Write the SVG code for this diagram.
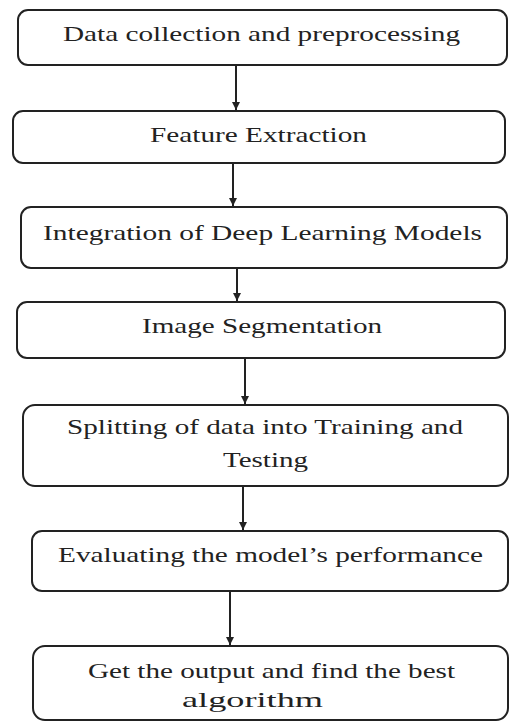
<svg xmlns="http://www.w3.org/2000/svg" width="509" height="722" viewBox="0 0 509 722">
<defs>
<style>
.box{fill:#fff;stroke:#222;stroke-width:2}
.t{font-family:'Liberation Serif','Times New Roman','DejaVu Serif',serif;font-size:21px;fill:#222}
.c{stroke:#222;stroke-width:2;fill:none}
</style>
<marker id="ah" viewBox="0 0 10 10" refX="10" refY="5" markerWidth="4" markerHeight="4" orient="auto" markerUnits="strokeWidth">
<path d="M0,0 L10,5 L0,10 z" fill="#222"/>
</marker>
</defs>
<rect width="509" height="722" fill="#fff"/>
<g id="n1"><rect class="box" x="18" y="10" width="489" height="55" rx="10"/>
<text class="t" font-family="Liberation Serif, DejaVu Serif, serif" x="63" y="41" textLength="397" lengthAdjust="spacingAndGlyphs">Data collection and preprocessing</text></g>
<g id="n2"><rect class="box" x="13" y="111" width="492" height="52" rx="10"/>
<text class="t" font-family="Liberation Serif, DejaVu Serif, serif" x="150" y="142" textLength="217" lengthAdjust="spacingAndGlyphs">Feature Extraction</text></g>
<g id="n3"><rect class="box" x="21" y="207" width="486" height="61" rx="10"/>
<text class="t" font-family="Liberation Serif, DejaVu Serif, serif" x="43" y="240" textLength="439" lengthAdjust="spacingAndGlyphs">Integration of Deep Learning Models</text></g>
<g id="n4"><rect class="box" x="17" y="302" width="488" height="56" rx="10"/>
<text class="t" font-family="Liberation Serif, DejaVu Serif, serif" x="142" y="333" textLength="240" lengthAdjust="spacingAndGlyphs">Image Segmentation</text></g>
<g id="n5"><rect class="box" x="23" y="405" width="485" height="81" rx="12"/>
<text class="t" font-family="Liberation Serif, DejaVu Serif, serif" x="67" y="434" textLength="396" lengthAdjust="spacingAndGlyphs">Splitting of data into Training and</text>
<text class="t" font-family="Liberation Serif, DejaVu Serif, serif" x="223" y="467" textLength="85" lengthAdjust="spacingAndGlyphs">Testing</text></g>
<g id="n6"><rect class="box" x="32" y="531" width="476" height="60" rx="10"/>
<text class="t" font-family="Liberation Serif, DejaVu Serif, serif" x="58" y="562" textLength="425" lengthAdjust="spacingAndGlyphs">Evaluating the model’s performance</text></g>
<g id="n7"><rect class="box" x="33" y="646" width="475" height="74" rx="12"/>
<text class="t" font-family="Liberation Serif, DejaVu Serif, serif" x="88" y="678" textLength="367" lengthAdjust="spacingAndGlyphs">Get the output and find the best</text>
<text class="t" font-family="Liberation Serif, DejaVu Serif, serif" x="182" y="707" textLength="141" lengthAdjust="spacingAndGlyphs">algorithm</text></g>
<g id="connectors">
<line class="c" x1="236" y1="66" x2="236" y2="110" marker-end="url(#ah)"/>
<line class="c" x1="233" y1="164" x2="233" y2="206" marker-end="url(#ah)"/>
<line class="c" x1="237" y1="269" x2="237" y2="301" marker-end="url(#ah)"/>
<line class="c" x1="245" y1="359" x2="245" y2="404" marker-end="url(#ah)"/>
<line class="c" x1="243" y1="487" x2="243" y2="530" marker-end="url(#ah)"/>
<line class="c" x1="230" y1="592" x2="230" y2="645" marker-end="url(#ah)"/>
</g>
</svg>
